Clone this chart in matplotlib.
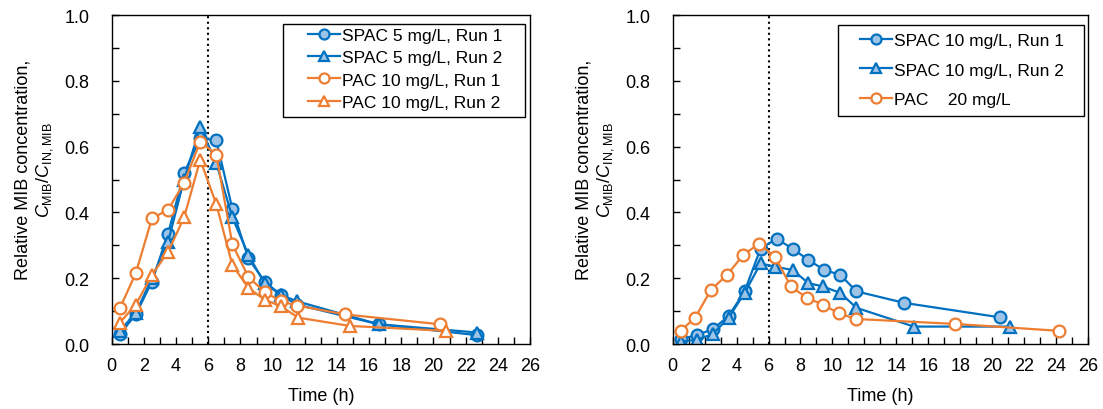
import matplotlib
matplotlib.use("Agg")
import matplotlib.pyplot as plt
from matplotlib.ticker import MultipleLocator, FormatStrFormatter
from matplotlib.patches import Rectangle

plt.rcParams['font.family'] = ['Liberation Sans', 'DejaVu Sans']
plt.rcParams['mathtext.fontset'] = 'custom'
plt.rcParams['mathtext.rm'] = 'Liberation Sans'
plt.rcParams['mathtext.it'] = 'Liberation Sans:italic'

BLUE = '#0070C0'
BLUE_FILL = '#9DC3E6'
ORANGE = '#ED7D31'

# left panel
t_spac5_r1 = [0.5, 1.5, 2.5, 3.5, 4.5, 5.5, 6.5, 7.5, 8.5, 9.5, 10.5, 11.5, 16.6, 22.7]
c_spac5_r1 = [0.03, 0.09, 0.19, 0.335, 0.52, 0.625, 0.62, 0.41, 0.26, 0.19, 0.15, 0.12, 0.06, 0.027]
t_spac5_r2 = [0.5, 1.5, 2.5, 3.5, 4.5, 5.5, 6.5, 7.5, 8.5, 9.5, 10.5, 11.5, 16.6, 22.7]
c_spac5_r2 = [0.04, 0.095, 0.20, 0.31, 0.50, 0.66, 0.55, 0.385, 0.27, 0.185, 0.15, 0.13, 0.06, 0.035]
t_pac10_r1 = [0.5, 1.5, 2.5, 3.5, 4.5, 5.5, 6.5, 7.5, 8.5, 9.5, 10.5, 11.5, 14.5, 20.4]
c_pac10_r1 = [0.108, 0.216, 0.382, 0.408, 0.49, 0.615, 0.576, 0.303, 0.203, 0.159, 0.13, 0.117, 0.09, 0.06]
t_pac10_r2 = [0.5, 1.5, 2.5, 3.5, 4.5, 5.5, 6.5, 7.5, 8.5, 9.5, 10.5, 11.6, 14.8, 20.8]
c_pac10_r2 = [0.065, 0.12, 0.21, 0.28, 0.385, 0.56, 0.425, 0.24, 0.17, 0.135, 0.115, 0.08, 0.055, 0.04]

# right panel
t_spac10_r1 = [0.5, 1.5, 2.5, 3.5, 4.5, 5.5, 6.5, 7.5, 8.5, 9.5, 10.5, 11.5, 14.5, 20.5]
c_spac10_r1 = [0.015, 0.027, 0.045, 0.085, 0.16, 0.29, 0.32, 0.29, 0.255, 0.225, 0.21, 0.16, 0.125, 0.081]
t_spac10_r2 = [0.5, 1.5, 2.5, 3.5, 4.5, 5.5, 6.4, 7.5, 8.5, 9.4, 10.5, 11.5, 15.1, 21.1]
c_spac10_r2 = [0.007, 0.013, 0.03, 0.08, 0.155, 0.245, 0.235, 0.225, 0.185, 0.175, 0.155, 0.11, 0.053, 0.053]
t_pac20 = [0.5, 1.4, 2.4, 3.4, 4.4, 5.4, 6.4, 7.4, 8.4, 9.4, 10.4, 11.5, 17.7, 24.2]
c_pac20 = [0.04, 0.08, 0.165, 0.21, 0.27, 0.305, 0.265, 0.175, 0.14, 0.12, 0.093, 0.076, 0.061, 0.04]

fig = plt.figure(figsize=(11.03, 4.10), dpi=100)
ax1 = fig.add_axes([0.1013, 0.1585, 0.3792, 0.8024])
ax2 = fig.add_axes([0.6099, 0.1585, 0.3765, 0.8024])

ms = 8.5
lw = 1.6
mew = 1.6
fs = 13

def style(ax):
    ax.set_xlim(0, 26)
    ax.set_ylim(0, 1.0)
    ax.xaxis.set_major_locator(MultipleLocator(2))
    ax.xaxis.set_minor_locator(MultipleLocator(1))
    ax.yaxis.set_major_locator(MultipleLocator(0.2))
    ax.yaxis.set_minor_locator(MultipleLocator(0.1))
    ax.yaxis.set_major_formatter(FormatStrFormatter('%.1f'))
    ax.tick_params(which='both', direction='in', labelsize=fs, width=1.0, length=5)
    ax.tick_params(axis='x', which='both', top=False, pad=9)
    ax.tick_params(axis='y', which='both', right=False, pad=16)
    for s in ax.spines.values():
        s.set_linewidth(1.0)
    ax.axvline(6, color='black', linestyle=':', linewidth=1.5, zorder=1)
    ax.set_xlabel('Time (h)', fontsize=fs)
    ax.xaxis.set_label_coords(0.5, -0.131)
    ax.set_ylabel('Relative MIB concentration,\n'
                  r'$\mathit{C}_{\mathrm{MIB}}/\mathit{C}_{\mathrm{IN,MIB}}$',
                  fontsize=fs)
    ax.yaxis.set_label_coords(-0.136, 0.533)

def frame(ax, x0, y0, x1, y1):
    ax.add_patch(Rectangle((x0, y0), x1 - x0, y1 - y0, transform=ax.transAxes,
                           fill=True, facecolor='white', edgecolor='black',
                           linewidth=1.0, zorder=4))

ax1.plot(t_spac5_r1, c_spac5_r1, '-o', color=BLUE, mfc=BLUE_FILL, mec=BLUE,
         ms=ms, lw=lw, mew=mew, label='SPAC 5 mg/L, Run 1')
ax1.plot(t_spac5_r2, c_spac5_r2, '-^', color=BLUE, mfc=BLUE_FILL, mec=BLUE,
         ms=ms + 0.5, lw=lw, mew=mew, label='SPAC 5 mg/L, Run 2')
ax1.plot(t_pac10_r1, c_pac10_r1, '-o', color=ORANGE, mfc='white', mec=ORANGE,
         ms=ms, lw=lw, mew=mew, label='PAC 10 mg/L, Run 1')
ax1.plot(t_pac10_r2, c_pac10_r2, '-^', color=ORANGE, mfc='white', mec=ORANGE,
         ms=ms + 0.5, lw=lw, mew=mew, label='PAC 10 mg/L, Run 2')
style(ax1)
frame(ax1, 0.409, 0.690, 0.988, 0.973)
leg1 = ax1.legend(loc='upper left', bbox_to_anchor=(0.469, 0.962), borderaxespad=0,
                  fontsize=12.5, frameon=False, labelspacing=0.42,
                  handlelength=1.85, handletextpad=0.1, borderpad=0,
                  markerscale=0.85)
leg1.set_zorder(5)

ax2.plot(t_spac10_r1, c_spac10_r1, '-o', color=BLUE, mfc=BLUE_FILL, mec=BLUE,
         ms=ms, lw=lw, mew=mew, label='SPAC 10 mg/L, Run 1')
ax2.plot(t_spac10_r2, c_spac10_r2, '-^', color=BLUE, mfc=BLUE_FILL, mec=BLUE,
         ms=ms + 0.5, lw=lw, mew=mew, label='SPAC 10 mg/L, Run 2')
ax2.plot(t_pac20, c_pac20, '-o', color=ORANGE, mfc='white', mec=ORANGE,
         ms=ms, lw=lw, mew=mew, label='PAC    20 mg/L')
style(ax2)
frame(ax2, 0.398, 0.693, 0.990, 0.970)
leg2 = ax2.legend(loc='upper left', bbox_to_anchor=(0.451, 0.947), borderaxespad=0,
                  fontsize=12.5, frameon=False, labelspacing=0.85,
                  handlelength=1.85, handletextpad=0.1, borderpad=0,
                  markerscale=0.85)
leg2.set_zorder(5)

fig.savefig('out.png', dpi=100)
